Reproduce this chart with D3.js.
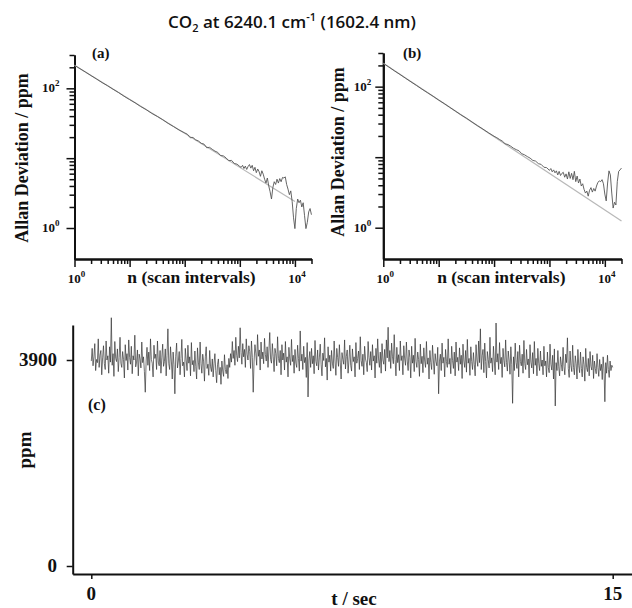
<!doctype html>
<html>
<head>
<meta charset="utf-8">
<style>
    body { margin: 0; background: #fff; }
    .axis path, .axis line { stroke: #111; }
    .axis path { stroke-width: 2; }
    .axis line { stroke-width: 1.5; }
    .lab { font-family: "Liberation Serif", "Times New Roman", serif; font-weight: bold; fill: #111; }
</style>
<script src="https://d3js.org/d3.v7.min.js"></script>
</head>
<body>
<svg width="632" height="608"></svg>
<script>

// scan intervals n, shared by (a) and (b)
var nVals = [1, 1.26, 1.58, 2, 2.51, 3.16, 3.98, 5.01, 6.31, 7.94, 10, 12.6, 15.8, 20, 25, 32, 40, 50, 63, 79, 100,
    112, 126, 141, 158, 178, 200, 224, 251, 282, 316, 355, 398, 447, 501, 562, 631, 708, 794, 891, 1000,
    1059, 1122, 1189, 1259, 1334, 1413, 1496, 1585, 1679, 1778, 1884, 1995, 2113, 2239, 2371, 2512, 2661, 2818,
    2985, 3162, 3350, 3548, 3758, 3981, 4217, 4467, 4732, 5012, 5309, 5623, 5957, 6310, 6683, 7079, 7499, 7943,
    8414, 8913, 9441, 10000, 10593, 11220, 11885, 12589, 13335, 14125, 14962, 15849, 16788, 17783, 18836, 19953];

// Allan deviation (ppm), panel (a)
var allanA = [214, 191, 171, 152, 136, 121, 109, 97, 87, 77, 69, 62, 55, 49.5, 44, 39.5, 35.5, 31.5, 28.3, 25.3, 23.0,
    22.0, 19.6, 19.8, 18.3, 17.6, 16.3, 15.9, 14.1, 14.3, 13.4, 12.6, 12.1, 10.9, 10.8, 10.1, 9.2, 9.3, 8.4, 8.2, 7.6,
    7.4, 7.9, 7.1, 7.7, 6.9, 7.6, 8.1, 7.2, 7.9, 6.6, 7.4, 6.2, 7.0, 6.4, 5.5, 6.6, 5.9, 5.0,
    4.4, 5.2, 4.0, 3.3, 2.6, 3.8, 4.6, 4.2, 5.0, 4.4, 5.1, 4.6, 5.3, 5.2, 5.4, 4.2, 3.6, 3.0,
    3.4, 2.4, 1.4, 0.98, 1.9, 2.6, 2.3, 2.5, 2.0, 2.3, 1.5, 0.98, 1.2, 1.7, 1.9, 1.55];

// Allan deviation (ppm), panel (b)
var allanB = [214, 190, 168, 149, 132, 117, 104, 92, 82, 73, 64.5, 57.5, 51, 45, 40, 35.5, 31.5, 28, 25, 22.2, 19.8,
    18.9, 17.8, 16.9, 15.5, 15.1, 14.3, 13.4, 12.8, 12.3, 11.2, 10.8, 10.2, 9.7, 9.0, 8.8, 8.1, 7.9, 7.2, 7.1, 6.5,
    6.9, 6.2, 6.6, 6.0, 6.4, 5.6, 6.3, 5.5, 5.9, 6.1, 5.2, 5.8, 4.9, 6.2, 5.0, 5.9, 4.8, 6.3,
    4.5, 5.4, 4.3, 4.9, 3.9, 4.2, 3.5, 3.1, 3.3, 2.8, 3.4, 3.7, 3.2, 3.6, 3.3, 3.9, 4.4, 4.6,
    4.5, 4.8, 4.2, 3.0, 2.4, 4.3, 6.4, 5.6, 3.1, 1.9, 2.3, 2.1, 4.5, 6.3, 6.6, 7.0];

// fitted n^-1/2 lines (end points)
var fitNA = [1, 10000], fitA = [214, 2.4];
var fitNB = [1, 20000], fitB = [214, 1.24];

// CO2 time trace (ppm), 0 to 15 s
var ppmVals = [
    3880, 4120, 3790, 3960, 4210, 3700, 3910, 3850, 4300, 3760, 3990, 4080, 3620, 3940, 4170, 3830, 3720, 4260, 3900, 3980,
    3650, 4150, 3860, 4700, 3800, 4020, 3590, 4250, 3930, 3870, 4110, 3680, 3950, 4330, 3840, 3760, 4060, 3910, 3560, 4190,
    3890, 4020, 3710, 4280, 3950, 3820, 4160, 3640, 3980, 3900, 4370, 3770, 3860, 4090, 3600, 4010, 3920, 3750, 4240, 3850,
    3960, 3680, 3290, 3880, 4140, 3800, 4050, 3700, 4300, 3910, 3840, 3580, 4180, 3930, 4010, 3720, 4260, 3860, 3790, 4080,
    3650, 3940, 4200, 3780, 3870, 4110, 3600, 3990, 4490, 3830, 3720, 4150, 3880, 3540, 4050, 3810, 3260, 3970, 4220, 3750,
    3880, 4060, 3620, 3930, 4290, 3790, 3860, 3580, 4120, 3900, 3700, 4180, 3840, 3960, 3600, 4230, 3810, 3890, 3680, 4070,
    3780, 3540, 4130, 3860, 3720, 4240, 3830, 3650, 4010, 3880, 3500, 3960, 4150, 3740, 3820, 3610, 4080, 3770, 3680, 3920,
    3580, 3840, 4020, 3700, 3470, 3810, 3920, 3620, 3760, 3440, 3880, 3690, 3590, 4000, 3720, 3640, 3810, 3550, 3930, 3760,
    4020, 3860, 4250, 3930, 4080, 3800, 4330, 3990, 3870, 4160, 3940, 4510, 4040, 3820, 4210, 3960, 4100, 3760, 4300, 4010,
    3900, 4170, 4060, 3740, 4260, 3950, 3290, 3880, 4190, 4030, 3800, 4380, 3970, 4090, 3710, 4240, 3920, 4050, 3830, 4310,
    4000, 3880, 4150, 3760, 4070, 4420, 3910, 3840, 4210, 3960, 3680, 4120, 4020, 3790, 4340, 3930, 3850, 4080, 3620, 4190,
    3900, 4030, 3710, 4250, 3860, 3960, 3580, 4140, 3920, 3800, 4290, 3870, 3990, 3650, 4100, 3840, 3760, 4180, 3930, 3690,
    4450, 3880, 4010, 3720, 4160, 3850, 3950, 3570, 4230, 3200, 3900, 4060, 3760, 4120, 3830, 3980, 3640, 4270, 3870, 3790,
    4090, 3710, 3940, 4200, 3820, 3600, 4030, 3890, 4320, 3770, 3930, 3520, 4150, 3860, 3990, 3690, 4080, 3840, 3740, 4260,
    3880, 3610, 4120, 3950, 3780, 4190, 3860, 3540, 4040, 3910, 3820, 4280, 3730, 3970, 4090, 3650, 3900, 4180, 3800, 3690,
    4110, 3870, 3960, 3580, 4230, 3840, 3930, 4070, 3720, 4340, 3890, 3780, 4010, 3620, 4160, 3920, 3850, 3680, 4250, 3950,
    3800, 4060, 3710, 4190, 3880, 3980, 3560, 4120, 3840, 4300, 3920, 3760, 4050, 3650, 4210, 3900, 3820, 4100, 3690, 4280,
    3940, 4520, 3870, 4080, 3740, 4220, 3960, 3830, 4380, 3910, 3600, 4140, 3850, 4000, 3700, 4260, 3890, 3980, 3620, 4170,
    3920, 3800, 4240, 3880, 3700, 4090, 3950, 3560, 4160, 3840, 3990, 3680, 4310, 3870, 3760, 4050, 3910, 3590, 4200, 3830,
    3970, 3660, 4130, 3880, 3760, 4250, 3820, 3940, 3540, 4080, 3850, 3720, 4180, 3900, 3630, 4020, 3870, 3790, 4140, 3260,
    3880, 4010, 3700, 4220, 3840, 3950, 3580, 4100, 3870, 3760, 4300, 3820, 3930, 3640, 4160, 3890, 3740, 4050, 3600, 4240,
    3860, 3950, 3700, 4130, 3820, 3990, 3550, 4200, 3880, 3760, 4080, 3670, 4290, 3840, 3930, 3610, 4150, 3870, 3720, 4040,
    3820, 3600, 4190, 3900, 3780, 4260, 3850, 4490, 3720, 3980, 4100, 3660, 4220, 3870, 3560, 4060, 3910, 3750, 4330, 3840,
    3940, 3680, 4160, 3880, 3620, 4600, 3860, 4020, 3720, 4230, 3830, 3950, 3570, 4120, 3890, 3770, 4280, 3850, 3690, 4070,
    3900, 3630, 4150, 3820, 3080, 3960, 3700, 4220, 3850, 3740, 4060, 3580, 4180, 3870, 3790, 4010, 3650, 4270, 3830, 3720,
    4100, 3810, 3920, 3560, 4190, 3860, 3750, 4040, 3640, 4250, 3800, 3930, 3600, 4120, 3840, 3700, 4070, 3780, 3900, 3620,
    4160, 3790, 3880, 3580, 4050, 3760, 3660, 4200, 3820, 3710, 3990, 3540, 4110, 3030, 3850, 3700, 4080, 3770, 3600, 3960,
    3820, 3690, 4140, 3780, 3620, 4010, 3850, 4320, 3740, 3570, 4070, 3800, 3680, 4180, 3760, 3620, 3980, 3830, 3540, 4100,
    3790, 3660, 4050, 3740, 3580, 3960, 3810, 3500, 4120, 3760, 3680, 3930, 3600, 4060, 3780, 3710, 3990, 3550, 3880, 3740,
    3640, 4020, 3760, 3590, 3910, 3700, 3820, 3530, 3960, 3730, 3110, 3850, 3650, 3990, 3720, 3570, 3880, 3700, 3800, 3760];

var tMax = 15;
var timeTicks = [0, 15];
var ppmTicks = [0, 3900];

var svg = d3.select("svg");
svg.append("rect").attr("width", 632).attr("height", 608).attr("fill", "#fff");

// title
var title = svg.append("text")
    .attr("x", 292).attr("y", 28)
    .attr("text-anchor", "middle")
    .attr("font-family", "'Open Sans', sans-serif")
    .attr("font-size", "17px")
    .attr("font-weight", 600)
    .attr("fill", "#111");
title.append("tspan").text("CO");
title.append("tspan").attr("font-size", "11px").attr("dy", 4).text("2");
title.append("tspan").attr("dy", -4).text(" at 6240.1 cm");
title.append("tspan").attr("font-size", "11px").attr("dy", -7).text("-1");
title.append("tspan").attr("dy", 7).text(" (1602.4 nm)");

function powLabel(sel, x, y, anchor, exp) {
    var t = sel.append("text").attr("class", "lab")
        .attr("x", x).attr("y", y)
        .attr("text-anchor", anchor)
        .attr("font-size", "13px");
    t.append("tspan").text("10");
    t.append("tspan").attr("font-size", "9px").attr("dy", -6).text(exp);
}

function drawAllan(p) {
    var x = d3.scaleLog().domain([1, 20000]).range(p.xr);
    var y = d3.scaleLog().domain([0.36, 300]).range(p.yr);
    var g = svg.append("g");

    var xMinor = [], yMinor = [];
    [1, 10, 100, 1000].forEach(function(d) {
        for (var k = 2; k <= 9; k++) xMinor.push(d * k);
    });
    xMinor.push(20000);
    [1, 10].forEach(function(d) {
        for (var k = 2; k <= 9; k++) yMinor.push(d * k);
    });
    yMinor.push(200, 300);

    g.append("g").attr("class", "axis")
        .attr("transform", "translate(0," + p.yr[0] + ")")
        .call(d3.axisBottom(x).tickValues(xMinor).tickSize(5).tickSizeOuter(0).tickFormat(""));
    g.append("g").attr("class", "axis")
        .attr("transform", "translate(0," + p.yr[0] + ")")
        .call(d3.axisBottom(x).tickValues([1, 10, 100, 1000, 10000]).tickSize(8).tickSizeOuter(0).tickFormat(""));
    g.append("g").attr("class", "axis")
        .attr("transform", "translate(" + p.xr[0] + ",0)")
        .call(d3.axisLeft(y).tickValues(yMinor).tickSize(5).tickSizeOuter(0).tickFormat(""));
    g.append("g").attr("class", "axis")
        .attr("transform", "translate(" + p.xr[0] + ",0)")
        .call(d3.axisLeft(y).tickValues([1, 10, 100]).tickSize(8).tickSizeOuter(0).tickFormat(""));

    // fit line then data
    g.append("path")
        .datum(d3.zip(p.fitN, p.fit))
        .attr("fill", "none").attr("stroke", "#b8b8b8").attr("stroke-width", 1.2)
        .attr("d", d3.line().x(function(d) { return x(d[0]); }).y(function(d) { return y(d[1]); }));
    g.append("path")
        .datum(d3.zip(nVals, p.data))
        .attr("fill", "none").attr("stroke", "#555").attr("stroke-width", 0.9)
        .attr("d", d3.line().x(function(d) { return x(d[0]); }).y(function(d) { return y(d[1]); }));

    powLabel(g, p.xr[0] - p.lgap, y(100) + 4, "end", "2");
    powLabel(g, p.xr[0] - p.lgap, y(1) + 4, "end", "0");
    powLabel(g, x(1) + 2, 283, "middle", "0");
    powLabel(g, x(10000) + 2, 283, "middle", "4");

    g.append("text").attr("class", "lab")
        .attr("x", x(1) + p.xt).attr("y", 283)
        .attr("text-anchor", "middle").attr("font-size", "17.5px")
        .text("n (scan intervals)");
    g.append("text").attr("class", "lab")
        .attr("transform", "translate(" + p.yt[0] + "," + p.yt[1] + ") rotate(-90)")
        .attr("text-anchor", "middle").attr("font-size", "18px")
        .text("Allan Deviation / ppm");
    g.append("text").attr("class", "lab")
        .attr("x", p.tag[0]).attr("y", p.tag[1])
        .attr("font-size", "15px")
        .text(p.name);
}

drawAllan({ xr: [74.5, 311.5], yr: [259, 55], data: allanA, fitN: fitNA, fit: fitA,
            lgap: 15, xt: 117, yt: [28, 158], tag: [92, 58], name: "(a)" });
drawAllan({ xr: [383.3, 621.5], yr: [259, 53], data: allanB, fitN: fitNB, fit: fitB,
            lgap: 12, xt: 118, yt: [344, 152], tag: [403, 58], name: "(b)" });

// panel (c)
var x3 = d3.scaleLinear().domain([0, tMax]).range([91.3, 612.7]);
x3.domain([x3.invert(72.7), x3.invert(632)]).range([72.7, 632]);
var y3 = d3.scaleLinear().domain([0, 3900]).range([566, 360]);
y3.domain([y3.invert(574), y3.invert(325)]).range([574, 325]);

var gc = svg.append("g");
gc.append("g").attr("class", "axis")
    .attr("transform", "translate(0,574)")
    .call(d3.axisBottom(x3).tickValues(timeTicks).tickSize(5).tickSizeOuter(0).tickFormat(""));
gc.append("g").attr("class", "axis")
    .attr("transform", "translate(72.7,0)")
    .call(d3.axisLeft(y3).tickValues(ppmTicks).tickSize(6).tickSizeOuter(0).tickFormat(""));
gc.selectAll(".axis path").attr("stroke-width", 2.5);

gc.append("path")
    .datum(ppmVals)
    .attr("fill", "none").attr("stroke", "#333").attr("stroke-width", 0.7)
    .attr("d", d3.line()
        .x(function(d, i) { return x3(i * tMax / (ppmVals.length - 1)); })
        .y(function(d) { return y3(d); }));

ppmTicks.forEach(function(v) {
    gc.append("text").attr("class", "lab")
        .attr("x", 57).attr("y", y3(v) + 6)
        .attr("text-anchor", "end").attr("font-size", "19px")
        .text(v);
});
timeTicks.forEach(function(v) {
    gc.append("text").attr("class", "lab")
        .attr("x", x3(v)).attr("y", 600)
        .attr("text-anchor", "middle").attr("font-size", "19px")
        .text(v);
});
gc.append("text").attr("class", "lab")
    .attr("x", 354).attr("y", 605)
    .attr("text-anchor", "middle").attr("font-size", "19px")
    .text("t / sec");
gc.append("text").attr("class", "lab")
    .attr("transform", "translate(31,450) rotate(-90)")
    .attr("text-anchor", "middle").attr("font-size", "19px")
    .text("ppm");
gc.append("text").attr("class", "lab")
    .attr("x", 88).attr("y", 410)
    .attr("font-size", "16px")
    .text("(c)");

</script>
</body>
</html>
